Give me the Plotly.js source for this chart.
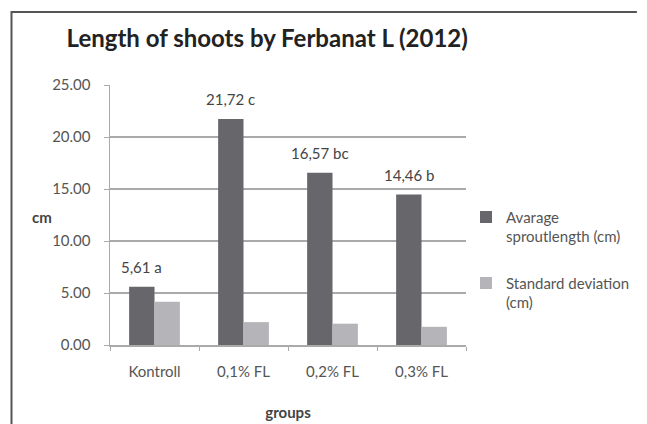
<!DOCTYPE html>
<html>
<head>
<meta charset="utf-8">
<script src="https://cdn.plot.ly/plotly-3.0.1.min.js"></script>
<style>html,body{margin:0;padding:0;background:#fff;}#chart{width:647px;height:424px;}</style>
</head>
<body>
<div id="chart"></div>
<script>
const categories = ["Kontroll", "0,1% FL", "0,2% FL", "0,3% FL"];
const avgLength = [5.61, 21.72, 16.57, 14.46];
const avgLabels = ["5,61 a", "21,72 c", "16,57 bc", "14,46 b"];
const stdDev = [4.15, 2.2, 2.05, 1.75];
const seriesNames = ["Avarage<br>sproutlength (cm)", "Standard deviation<br>(cm)"];
const yTicks = [0, 5, 10, 15, 20, 25];

const FONT = "Lato, 'Open Sans', sans-serif";

const traces = [
  {
    type: "bar", x: categories, y: avgLength, name: seriesNames[0],
    marker: {color: "#67676b"}, legendgroup: "a"
  },
  {
    type: "bar", x: categories, y: stdDev, name: seriesNames[1],
    marker: {color: "#b5b5b9"}, legendgroup: "b"
  }
];

const labelAnnotations = categories.map((c, i) => ({
  x: c, y: avgLength[i], xref: "x", yref: "y", text: avgLabels[i],
  showarrow: false, xanchor: "center", yanchor: "bottom", xshift: -13, yshift: 9,
  font: {family: FONT, size: 15, color: "#444"}
}));

const layout = {
  width: 647, height: 424,
  margin: {l: 110, r: 172, t: 85, b: 79},
  paper_bgcolor: "#fff", plot_bgcolor: "#fff",
  font: {family: FONT, color: "#555", size: 15},
  barmode: "group", bargap: 0.43, bargroupgap: 0,
  title: {text: "<b>Length of shoots by Ferbanat L (2012)</b>", font: {family: FONT, size: 24, color: "#222"},
          x: 0.413, xref: "container", xanchor: "center", y: 0.91, yref: "container", yanchor: "middle"},
  xaxis: {
    type: "category", tickson: "boundaries", ticks: "outside", ticklen: 4, tickcolor: "#aaa",
    showline: true, linecolor: "#aaa", linewidth: 1.5, showgrid: false,
    tickfont: {size: 15, color: "#555"}, ticklabelstandoff: 12,
    title: {text: "<b>groups</b>", font: {size: 15, color: "#444"}, standoff: 29}
  },
  yaxis: {
    range: [0, 25], tickvals: yTicks, tickformat: ".2f", ticks: "outside", ticklen: 5, tickcolor: "#aaa",
    showgrid: true, gridcolor: "#aaa", gridwidth: 1.5, zeroline: false,
    showline: true, linecolor: "#aaa", linewidth: 1.5,
    tickfont: {size: 15, color: "#555"}, ticklabelstandoff: 10
  },
  legend: {
    x: 1.0, xanchor: "left", y: 0.555, yanchor: "top",
    font: {size: 15, color: "#555"}, tracegroupgap: 24, itemwidth: 30,
    traceorder: "grouped", valign: "top", bgcolor: "rgba(0,0,0,0)"
  },
  annotations: [
    {text: "<b>cm</b>", xref: "paper", yref: "paper", x: -0.2247, y: 0.492, showarrow: false,
     font: {size: 15, color: "#444"}}
  ].concat(labelAnnotations),
  shapes: [
    {type: "path", xref: "paper", yref: "paper",
     path: "M -0.2767 -0.31 L -0.2767 1.2808 L 1.48 1.2808",
     line: {color: "#555", width: 2}}
  ]
};

Plotly.newPlot("chart", traces, layout, {displayModeBar: false, staticPlot: true});
</script>
</body>
</html>
